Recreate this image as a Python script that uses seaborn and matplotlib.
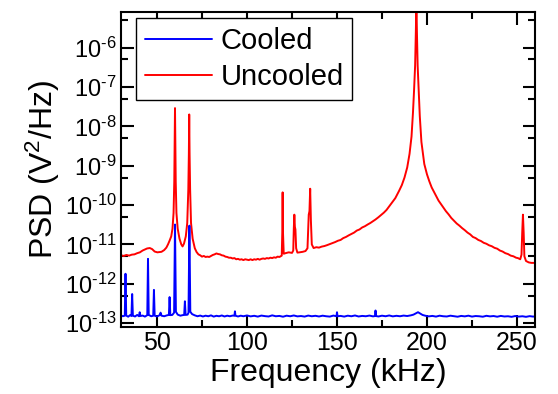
import matplotlib
matplotlib.use("Agg")
import matplotlib.pyplot as plt
from matplotlib.ticker import FixedLocator, FixedFormatter, MultipleLocator, NullFormatter
import pandas as pd
import seaborn as sns

# Power spectral density of the detector signal, with and without feedback cooling
cooled_freq = [
    30.0, 31.0, 32.1, 32.5, 32.9, 34.0, 35.0, 35.8, 36.2, 36.6, 37.8, 39.0, 40.0, 40.4, 40.8,
    42.0, 43.3, 44.6, 45.0, 45.4, 46.8, 47.9, 48.3, 48.7, 50.0, 51.5, 52.0, 52.5, 54.0, 55.5,
    56.6, 57.0, 57.4, 58.5, 59.5, 60.0, 60.5, 61.5, 63.0, 64.2, 65.1, 65.5, 65.9, 67.0, 67.5,
    68.0, 68.5, 69.5, 71.0, 72.5, 74.0, 75.5, 77.0, 78.5, 80.0, 81.5, 83.0, 84.5, 86.0, 87.5,
    89.0, 90.5, 92.0, 93.0, 93.3, 93.6, 95.0, 96.5, 98.0, 100.0, 102.0, 104.0, 106.0, 108.0,
    110.0, 112.0, 114.0, 116.0, 118.0, 120.0, 122.0, 124.0, 126.0, 128.0, 130.0, 132.0, 134.0,
    136.0, 138.0, 140.0, 142.0, 144.0, 146.0, 148.0, 149.7, 150.0, 150.3, 152.0, 154.0, 156.0,
    158.0, 160.0, 162.0, 164.0, 166.0, 168.0, 170.0, 171.1, 171.4, 171.7, 173.0, 175.0, 177.0,
    179.0, 181.0, 183.0, 185.0, 187.0, 189.0, 191.0, 192.5, 194.0, 195.0, 196.0, 197.5, 199.0,
    201.0, 203.0, 205.0, 207.0, 209.0, 211.0, 213.0, 215.0, 217.0, 219.0, 221.0, 223.0, 225.0,
    227.0, 229.0, 231.0, 233.0, 235.0, 237.0, 239.0, 241.0, 243.0, 245.0, 247.0, 249.0, 251.0,
    253.0, 255.0, 257.0, 259.0, 260.0,
]
cooled_psd = [
    1.58e-13, 1.50e-13, 1.55e-13, 1.8e-12, 1.56e-13, 1.46e-13, 1.60e-13, 1.52e-13, 5.5e-13, 1.55e-13,
    1.48e-13, 1.62e-13, 1.50e-13, 1.9e-13, 1.52e-13, 1.56e-13, 1.47e-13, 1.60e-13, 4.3e-12, 1.62e-13,
    1.50e-13, 1.55e-13, 7.0e-13, 1.55e-13, 1.48e-13, 1.60e-13, 1.85e-13, 1.55e-13, 1.50e-13, 1.58e-13,
    1.62e-13, 4.6e-13, 1.60e-13, 1.62e-13, 1.85e-13, 3.2e-11, 1.95e-13, 1.65e-13, 1.55e-13, 1.60e-13,
    1.62e-13, 3.6e-13, 1.62e-13, 1.65e-13, 1.85e-13, 3.0e-11, 1.95e-13, 1.70e-13, 1.58e-13, 1.50e-13,
    1.56e-13, 1.48e-13, 1.55e-13, 1.50e-13, 1.58e-13, 1.47e-13, 1.54e-13, 1.50e-13, 1.57e-13, 1.48e-13,
    1.55e-13, 1.50e-13, 1.56e-13, 1.55e-13, 2.0e-13, 1.55e-13, 1.48e-13, 1.55e-13, 1.50e-13, 1.57e-13,
    1.49e-13, 1.54e-13, 1.47e-13, 1.56e-13, 1.51e-13, 1.48e-13, 1.58e-13, 1.50e-13, 1.53e-13, 1.46e-13,
    1.55e-13, 1.50e-13, 1.57e-13, 1.49e-13, 1.52e-13, 1.47e-13, 1.56e-13, 1.50e-13, 1.54e-13, 1.48e-13,
    1.55e-13, 1.50e-13, 1.47e-13, 1.56e-13, 1.50e-13, 1.9e-13, 1.50e-13, 1.53e-13, 1.47e-13, 1.55e-13,
    1.50e-13, 1.57e-13, 1.48e-13, 1.53e-13, 1.50e-13, 1.56e-13, 1.49e-13, 1.52e-13, 2.1e-13, 1.52e-13,
    1.48e-13, 1.55e-13, 1.50e-13, 1.57e-13, 1.49e-13, 1.54e-13, 1.50e-13, 1.56e-13, 1.52e-13, 1.58e-13,
    1.65e-13, 1.80e-13, 1.90e-13, 1.78e-13, 1.62e-13, 1.55e-13, 1.49e-13, 1.53e-13, 1.47e-13, 1.55e-13,
    1.50e-13, 1.48e-13, 1.55e-13, 1.50e-13, 1.46e-13, 1.53e-13, 1.49e-13, 1.55e-13, 1.47e-13, 1.52e-13,
    1.50e-13, 1.46e-13, 1.54e-13, 1.49e-13, 1.52e-13, 1.46e-13, 1.53e-13, 1.48e-13, 1.50e-13, 1.45e-13,
    1.52e-13, 1.47e-13, 1.50e-13, 1.45e-13, 1.51e-13, 1.47e-13, 1.49e-13,
]

uncooled_freq = [
    30.0, 31.5, 33.0, 34.5, 36.0, 37.5, 39.0, 40.5, 42.0, 43.2,
    44.5, 46.0, 47.3, 48.7, 50.2, 51.5, 52.5, 54.0, 55.2, 56.1,
    57.0, 57.9, 58.6, 59.2, 59.6, 59.8, 60.0, 60.2, 60.4, 60.8,
    61.5, 62.5, 63.5, 64.2, 65.0, 66.0, 66.8, 67.4, 67.7, 67.9,
    68.1, 68.4, 68.9, 69.8, 71.0, 72.0, 73.0, 74.0, 75.0, 76.0,
    77.0, 78.0, 79.0, 80.0, 81.0, 82.0, 83.0, 84.0, 85.0, 86.0,
    87.0, 88.0, 89.0, 90.0, 91.0, 92.0, 93.0, 94.0, 95.0, 96.0,
    97.0, 98.0, 99.0, 100.0, 101.0, 102.0, 103.0, 104.0, 105.0, 106.0,
    107.0, 108.0, 109.0, 110.0, 111.0, 112.0, 113.0, 114.0, 115.0, 116.0,
    117.0, 118.0, 119.3, 119.6, 119.8, 120.0, 120.4, 121.4, 123.2, 125.0,
    125.7, 126.0, 126.3, 126.6, 126.9, 127.3, 128.0, 129.2, 131.0, 132.5,
    133.6, 134.0, 134.3, 134.7, 135.1, 135.5, 136.0, 137.0, 138.5, 140.0,
    141.5, 143.0, 144.5, 146.0, 147.5, 149.0, 150.5, 152.0, 153.5, 155.0,
    156.5, 158.0, 159.5, 161.0, 162.5, 164.0, 165.5, 167.0, 168.5, 170.0,
    171.4, 173.0, 174.5, 176.0, 177.5, 178.7, 180.5, 182.4, 184.5, 186.0,
    187.5, 189.0, 190.3, 191.4, 192.2, 192.8, 193.4, 193.8, 194.1, 194.4,
    194.8, 195.4, 196.0, 196.9, 198.5, 200.0, 201.3, 202.6, 204.5, 206.4,
    207.5, 209.0, 210.5, 212.0, 213.5, 215.0, 216.5, 218.0, 219.5, 221.0,
    222.5, 224.0, 225.5, 227.0, 228.5, 230.0, 231.5, 233.0, 234.5, 236.0,
    237.5, 239.0, 240.5, 242.0, 243.5, 245.0, 246.5, 248.0, 249.5, 250.5,
    251.8, 252.5, 252.9, 253.3, 253.7, 254.1, 255.0, 256.5, 258.0, 260.0,
]
uncooled_psd = [
    5.3e-12, 5.1e-12, 5.4e-12, 5.2e-12, 5.5e-12, 5.6e-12, 6.0e-12, 6.3e-12, 7.0e-12, 7.4e-12,
    7.9e-12, 8.1e-12, 7.6e-12, 6.6e-12, 6.3e-12, 6.4e-12, 6.5e-12, 7.2e-12, 8.3e-12, 1.0e-11,
    1.25e-11, 1.6e-11, 2.5e-11, 6.3e-11, 4.0e-10, 3.2e-9, 2.9e-8, 3.2e-9, 4.0e-10, 6.3e-11,
    2.5e-11, 1.4e-11, 1.0e-11, 8.9e-12, 1.05e-11, 1.6e-11, 3.5e-11, 2.5e-10, 2.0e-9, 2.0e-8,
    2.0e-9, 2.5e-10, 3.5e-11, 1.4e-11, 8.0e-12, 6.4e-12, 5.6e-12, 5.3e-12, 4.9e-12, 5.1e-12,
    4.8e-12, 4.9e-12, 4.8e-12, 5.1e-12, 5.4e-12, 5.6e-12, 5.9e-12, 5.7e-12, 5.6e-12, 5.3e-12,
    5.2e-12, 4.9e-12, 4.8e-12, 4.6e-12, 4.6e-12, 4.4e-12, 4.5e-12, 4.2e-12, 4.3e-12, 4.1e-12,
    4.2e-12, 4.0e-12, 4.2e-12, 4.1e-12, 4.0e-12, 4.2e-12, 4.0e-12, 4.2e-12, 4.1e-12, 4.3e-12,
    4.1e-12, 4.3e-12, 4.4e-12, 4.3e-12, 4.5e-12, 4.4e-12, 4.6e-12, 4.5e-12, 4.7e-12, 4.6e-12,
    4.9e-12, 4.8e-12, 5.2e-12, 2.0e-11, 2.1e-10, 2.0e-11, 5.8e-12, 6.0e-12, 6.3e-12, 6.1e-12,
    7.0e-12, 2.5e-11, 5.7e-11, 2.8e-11, 2.4e-11, 8.0e-12, 6.2e-12, 6.3e-12, 6.5e-12, 6.8e-12,
    8.0e-12, 2.5e-11, 5.7e-11, 7.0e-11, 2.6e-10, 4.0e-11, 1.0e-11, 8.1e-12, 8.5e-12, 8.3e-12,
    8.8e-12, 9.1e-12, 9.6e-12, 1.02e-11, 1.08e-11, 1.15e-11, 1.24e-11, 1.3e-11, 1.45e-11, 1.55e-11,
    1.7e-11, 1.85e-11, 2.0e-11, 2.25e-11, 2.4e-11, 2.7e-11, 2.9e-11, 3.2e-11, 3.5e-11, 3.9e-11,
    4.3e-11, 4.9e-11, 5.6e-11, 6.4e-11, 7.5e-11, 8.9e-11, 1.15e-10, 1.5e-10, 2.3e-10, 3.2e-10,
    5.0e-10, 9.0e-10, 2.0e-9, 5.5e-9, 2.2e-8, 8.0e-8, 3.5e-7, 2.5e-6, 1.5e-5, 2.5e-6,
    3.5e-7, 8.0e-8, 1.8e-8, 4.0e-9, 1.1e-9, 6.0e-10, 4.0e-10, 2.8e-10, 1.9e-10, 1.3e-10,
    1.1e-10, 8.7e-11, 7.0e-11, 5.8e-11, 4.7e-11, 4.0e-11, 3.4e-11, 3.0e-11, 2.6e-11, 2.3e-11,
    2.0e-11, 1.8e-11, 1.55e-11, 1.45e-11, 1.3e-11, 1.22e-11, 1.1e-11, 1.04e-11, 9.5e-12, 9.0e-12,
    8.2e-12, 7.8e-12, 7.0e-12, 6.6e-12, 6.0e-12, 5.7e-12, 5.2e-12, 5.0e-12, 4.6e-12, 4.5e-12,
    4.2e-12, 5.5e-12, 2.0e-11, 5.7e-11, 2.0e-11, 5.0e-12, 3.8e-12, 3.5e-12, 3.4e-12, 3.4e-12,
]

series_names = ["Cooled", "Uncooled"]
series_colors = {"Cooled": "#0000ff", "Uncooled": "#ff0000"}

x_tick_values = [50, 100, 150, 200, 250]
x_tick_labels = ["50", "100", "150", "200", "250"]
y_tick_values = [1e-13, 1e-12, 1e-11, 1e-10, 1e-9, 1e-8, 1e-7, 1e-6]
y_tick_labels = [r"$\mathdefault{10^{\text{-}13}}$", r"$\mathdefault{10^{\text{-}12}}$",
                 r"$\mathdefault{10^{\text{-}11}}$", r"$\mathdefault{10^{\text{-}10}}$",
                 r"$\mathdefault{10^{\text{-}9}}$", r"$\mathdefault{10^{\text{-}8}}$",
                 r"$\mathdefault{10^{\text{-}7}}$", r"$\mathdefault{10^{\text{-}6}}$"]
y_minor_values = [5e-13, 5e-12, 5e-11, 5e-10, 5e-9, 5e-8, 5e-7, 5e-6]

sns.set_theme(style="ticks")
plt.rcParams["font.family"] = ["Liberation Sans", "DejaVu Sans"]
plt.rcParams["mathtext.fontset"] = "custom"
plt.rcParams["mathtext.rm"] = "Liberation Sans"
plt.rcParams["mathtext.it"] = "Liberation Sans:italic"
plt.rcParams["mathtext.bf"] = "Liberation Sans:bold"
for key in ["text.color", "axes.labelcolor", "xtick.color", "ytick.color", "axes.edgecolor"]:
    plt.rcParams[key] = "black"

cooled = pd.DataFrame({"freq": cooled_freq, "psd": cooled_psd})
uncooled = pd.DataFrame({"freq": uncooled_freq, "psd": uncooled_psd})

fig = plt.figure(figsize=(5.58, 3.94), dpi=100)
ax = fig.add_axes([121 / 558, 1 - 327 / 394, 414 / 558, 315 / 394])

# uncooled trace underneath, cooled trace drawn over it
sns.lineplot(data=uncooled, x="freq", y="psd", color=series_colors["Uncooled"], lw=1.4,
             estimator=None, sort=False, label="Uncooled", ax=ax)
sns.lineplot(data=cooled, x="freq", y="psd", color=series_colors["Cooled"], lw=1.4,
             estimator=None, sort=False, label="Cooled", ax=ax)

ax.set_yscale("log")
ax.set_xlim(30, 260)
ax.set_ylim(8e-14, 8e-6)

ax.xaxis.set_major_locator(FixedLocator(x_tick_values))
ax.xaxis.set_major_formatter(FixedFormatter(x_tick_labels))
ax.xaxis.set_minor_locator(MultipleLocator(25))
ax.yaxis.set_major_locator(FixedLocator(y_tick_values))
ax.yaxis.set_major_formatter(FixedFormatter(y_tick_labels))
ax.yaxis.set_minor_locator(FixedLocator(y_minor_values))
ax.yaxis.set_minor_formatter(NullFormatter())

ax.tick_params(which="both", direction="in", top=True, right=True, width=1.5, color="black")
ax.tick_params(which="major", length=9)
ax.tick_params(which="minor", length=5)
ax.tick_params(axis="x", which="major", labelsize=18, pad=3)
ax.tick_params(axis="y", which="major", labelsize=17, pad=3)
for s in ax.spines.values():
    s.set_linewidth(1.5)
    s.set_color("black")
    s.set_visible(True)

ax.set_xlabel("Frequency (kHz)", fontsize=23, labelpad=2)
ax.set_ylabel(r"PSD (V$^2$/Hz)", fontsize=23, labelpad=2)

handles, labels = ax.get_legend_handles_labels()
order = [labels.index(n) for n in series_names]
leg = ax.legend([handles[i] for i in order], [labels[i] for i in order],
                loc="upper left", bbox_to_anchor=(0.036, 0.981), borderaxespad=0,
                fontsize=21, frameon=True, fancybox=False, framealpha=1,
                edgecolor="black", borderpad=0.3, labelspacing=0.3,
                handlelength=2.3, handletextpad=0.3)
leg.get_frame().set_linewidth(1.0)

fig.savefig("out.png", dpi=100)
